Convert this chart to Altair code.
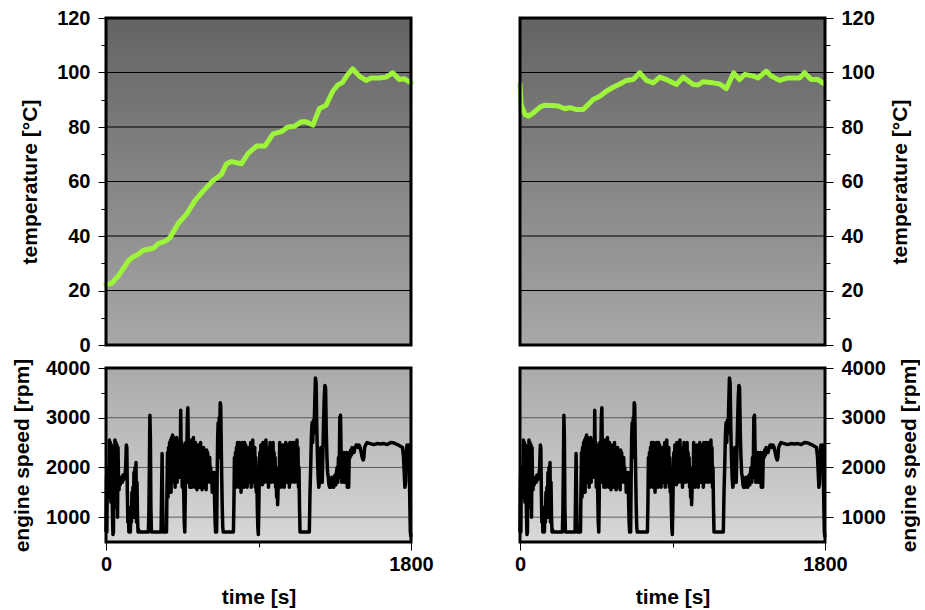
import altair as alt
import pandas as pd

# ---------------- data ----------------
time_left = [0, 33, 73, 132, 161, 190, 220, 279, 308, 347, 377, 426, 475, 524, 573, 632, 681,
             711, 740, 799, 838, 888, 937, 986, 1035, 1073, 1113, 1152, 1181, 1221, 1260, 1299,
             1339, 1368, 1397, 1427, 1456, 1495, 1535, 1564, 1613, 1653, 1692, 1731, 1761, 1800]
temp_left = [22.1, 22.6, 25.4, 30.9, 32.4, 33.3, 34.8, 35.5, 37.2, 38.0, 39.4, 44.6, 48.0, 52.9,
             56.5, 60.4, 62.6, 66.5, 67.3, 66.5, 70.2, 73.0, 73.0, 77.5, 78.3, 80.0, 80.3, 81.9,
             81.9, 80.7, 86.8, 88.0, 93.2, 95.4, 96.5, 99.3, 101.3, 98.7, 97.1, 98.0, 98.0, 98.3,
             99.9, 97.4, 97.7, 96.2]

time_right = [0, 6, 29, 49, 79, 118, 147, 187, 226, 265, 295, 334, 373, 403, 432, 471, 511, 550,
              589, 628, 668, 707, 746, 786, 825, 864, 923, 963, 1022, 1051, 1080, 1139, 1178,
              1218, 1261, 1296, 1326, 1375, 1404, 1453, 1483, 1532, 1581, 1650, 1679, 1718,
              1758, 1796]
temp_right = [95.6, 88.3, 84.6, 84.0, 85.2, 87.3, 88.0, 87.9, 87.7, 86.7, 87.1, 86.4, 86.4, 88.3,
              90.1, 91.3, 93.2, 94.6, 95.8, 97.1, 97.4, 99.9, 97.1, 96.2, 98.3, 97.4, 95.6, 98.3,
              95.6, 95.4, 96.6, 96.2, 95.8, 94.1, 99.9, 97.4, 99.3, 98.7, 98.0, 100.5, 98.7,
              97.1, 98.0, 98.0, 99.9, 97.4, 97.4, 95.8]

speed_pts = [
    (0, 700), (3, 1800), (5, 700), (8, 1950), (11, 1400), (14, 2000), (17, 1500), (20, 2550),
    (23, 1800), (26, 2500), (29, 1300), (32, 2450), (35, 1700), (38, 1100), (41, 650), (44, 700),
    (47, 2200), (50, 1600), (53, 2550), (56, 1500), (59, 2500), (62, 1200), (65, 2450), (68, 1000),
    (71, 2400), (74, 1700), (77, 1550), (80, 1800), (84, 1650), (88, 1750), (92, 1800), (96, 1700),
    (100, 1850), (104, 1750), (108, 1800), (112, 1850), (116, 2000), (120, 2450), (123, 2400),
    (126, 1500), (129, 900), (132, 1200), (135, 700), (138, 800), (141, 1000), (144, 700),
    (147, 1200), (150, 900), (153, 1500), (156, 1100), (159, 1600), (162, 1000), (165, 1900),
    (168, 1200), (171, 2000), (174, 1500), (177, 2100), (180, 900), (183, 1700), (186, 1000),
    (189, 700), (192, 750), (196, 700), (250, 700), (253, 1100), (256, 2000), (259, 3050),
    (262, 2600), (265, 1200), (268, 700), (325, 700), (328, 1500), (331, 2280), (334, 1400),
    (337, 700), (357, 700), (360, 1600), (363, 2300), (366, 1400), (369, 2400), (372, 1700),
    (375, 2500), (378, 1900), (381, 2550), (384, 1500), (387, 2600), (390, 2000), (393, 2650),
    (396, 1700), (399, 2600), (402, 2100), (405, 2550), (408, 1600), (411, 2400), (414, 1900),
    (417, 2600), (420, 1700), (423, 2500), (426, 2000), (429, 2450), (432, 1800), (435, 2550),
    (438, 2000), (441, 3150), (444, 2200), (447, 2500), (450, 1600), (453, 2450), (456, 1900),
    (459, 1400), (462, 900), (465, 700), (468, 1500), (471, 2500), (474, 1700), (477, 2300),
    (480, 3000), (483, 3200), (486, 2400), (489, 1700), (492, 2500), (495, 1600), (498, 2300),
    (501, 1800), (504, 2550), (507, 1600), (510, 2400), (513, 1800), (516, 2600), (519, 1700),
    (522, 2350), (525, 1600), (528, 2500), (531, 1900), (534, 2400), (537, 1550), (540, 2300),
    (543, 1800), (546, 2450), (549, 1600), (552, 2200), (555, 1900), (558, 2500), (561, 1700),
    (564, 2300), (567, 1550), (570, 2200), (573, 1900), (576, 2400), (579, 1600), (582, 2300),
    (585, 1800), (588, 2200), (591, 1550), (594, 2350), (597, 1700), (600, 2300), (603, 1900),
    (606, 2100), (609, 1800), (612, 2200), (615, 1700), (618, 2000), (621, 1800), (624, 1900),
    (627, 1500), (630, 1800), (634, 1700), (638, 1900), (641, 1300), (644, 900), (647, 700),
    (650, 1400), (653, 700), (656, 1800), (659, 2600), (662, 2900), (665, 2200), (668, 3000),
    (671, 2700), (674, 3300), (677, 3250), (680, 2500), (683, 1800), (686, 1200), (689, 800),
    (692, 700), (752, 700), (755, 1300), (758, 2200), (761, 1700), (764, 2300), (767, 1600),
    (770, 2400), (773, 1800), (776, 2500), (779, 1700), (782, 2450), (785, 1600), (788, 2500),
    (791, 1900), (794, 2450), (797, 1500), (800, 2300), (803, 1700), (806, 2500), (809, 1800),
    (812, 2400), (815, 1600), (818, 2500), (821, 2000), (824, 2450), (827, 1700), (830, 2300),
    (833, 1600), (836, 2100), (839, 1800), (842, 2400), (845, 1700), (848, 2200), (851, 1800),
    (854, 2500), (857, 1600), (860, 2300), (863, 1900), (866, 2550), (869, 1700), (872, 2300),
    (875, 1800), (878, 2400), (881, 1600), (884, 2200), (887, 1500), (890, 1900), (893, 1200),
    (896, 800), (899, 650), (902, 1200), (905, 1900), (908, 2300), (911, 1700), (914, 2450),
    (917, 1800), (920, 2200), (923, 1650), (926, 2500), (929, 1900), (932, 2400), (935, 1700),
    (938, 2300), (941, 1800), (944, 2550), (947, 1900), (950, 2400), (953, 1700), (956, 2200),
    (959, 1600), (962, 2100), (965, 1800), (968, 2500), (971, 1900), (974, 2400), (977, 1700),
    (980, 2300), (983, 1900), (986, 2500), (989, 1800), (992, 2300), (995, 1700), (998, 2200),
    (1001, 1600), (1004, 1900), (1007, 1400), (1010, 1700), (1013, 1250), (1016, 1600),
    (1019, 2000), (1022, 1700), (1025, 2500), (1028, 1800), (1031, 2400), (1034, 1600),
    (1037, 2300), (1040, 1700), (1043, 2450), (1046, 1800), (1049, 2300), (1052, 1600),
    (1055, 2400), (1058, 1900), (1061, 2500), (1064, 1800), (1067, 2200), (1070, 1700),
    (1073, 2450), (1076, 1800), (1079, 2300), (1082, 1600), (1085, 2500), (1088, 1900),
    (1091, 2400), (1094, 1700), (1097, 2500), (1100, 1800), (1103, 2450), (1106, 1900),
    (1109, 2500), (1112, 1700), (1115, 2300), (1118, 1800), (1121, 2500), (1124, 2000),
    (1127, 2550), (1130, 1700), (1133, 2400), (1136, 1600), (1139, 2000), (1142, 1200),
    (1145, 700), (1200, 700), (1204, 1500), (1208, 2000), (1212, 2600), (1216, 2900),
    (1220, 2500), (1224, 2950), (1228, 2700), (1232, 3300), (1236, 3800), (1240, 3700),
    (1244, 2800), (1248, 2200), (1252, 1800), (1256, 1600), (1260, 1700), (1264, 1900),
    (1268, 2400), (1272, 2000), (1276, 1700), (1280, 2300), (1284, 2900), (1288, 3400),
    (1292, 3650), (1296, 3600), (1300, 2700), (1304, 2200), (1308, 1900), (1312, 1800),
    (1316, 1650), (1320, 1600), (1324, 1700), (1328, 1600), (1332, 1800), (1336, 1650),
    (1340, 1800), (1344, 1600), (1348, 1700), (1352, 1850), (1356, 1650), (1360, 1900),
    (1364, 2000), (1368, 1700), (1372, 2200), (1376, 1800), (1380, 3000), (1384, 3050),
    (1388, 2200), (1392, 1700), (1396, 2300), (1400, 1800), (1404, 2300), (1408, 1700),
    (1412, 2200), (1416, 1900), (1420, 2300), (1424, 1600), (1428, 2000), (1432, 1600),
    (1436, 2300), (1440, 2200), (1444, 2350), (1448, 2250), (1452, 2400), (1456, 2300),
    (1460, 2350), (1464, 2300), (1470, 2400), (1476, 2450), (1482, 2450), (1488, 2400),
    (1494, 2450), (1500, 2400), (1506, 2300), (1512, 2200), (1518, 2150), (1522, 2200),
    (1526, 2400), (1532, 2450), (1540, 2500), (1560, 2480), (1580, 2460), (1600, 2480),
    (1620, 2470), (1640, 2480), (1660, 2460), (1680, 2500), (1700, 2490), (1720, 2460),
    (1740, 2420), (1750, 2400), (1756, 2200), (1760, 1900), (1764, 1600), (1768, 1700),
    (1772, 2300), (1776, 2450), (1780, 2400), (1784, 2300), (1788, 2450), (1792, 1500),
    (1796, 700), (1800, 600),
]
speed_time = [p[0] for p in speed_pts]
speed_rpm = [p[1] for p in speed_pts]

temp_ticks = list(range(0, 121, 10))
temp_grid = [20, 40, 60, 80, 100]
rpm_ticks = [1000, 1500, 2000, 2500, 3000, 3500, 4000]
rpm_grid = [1000, 2000, 3000]
time_ticks = [0, 900, 1800]

# ---------------- styling ----------------
FONT = "Liberation Sans"
W = 305
H_TOP = 327
H_BOT = 174
LINE_GREEN = "#9ef43a"

one = pd.DataFrame({"k": [0]})


def background(c1, c2):
    grad = alt.LinearGradient(
        gradient="linear",
        stops=[alt.GradientStop(color=c1, offset=0), alt.GradientStop(color=c2, offset=1)],
        x1=0, x2=0, y1=0, y2=1,
    )
    return alt.Chart(one).mark_rect(fill=grad).encode(
        x=alt.value(0), x2=alt.value("width"), y=alt.value(0), y2=alt.value("height")
    )


def border():
    return alt.Chart(one).mark_rect(fillOpacity=0, stroke="black", strokeWidth=3).encode(
        x=alt.value(0), x2=alt.value("width"), y=alt.value(0), y2=alt.value("height")
    )


def y_axis(orient, values, major_test, title, title_pad):
    return alt.Axis(
        orient=orient, values=values, format="d",
        labelExpr=f"({major_test}) ? datum.label : ''",
        tickSize={"condition": {"test": major_test, "value": 8}, "value": 5},
        tickColor="black", tickWidth=1, grid=False, domain=False,
        labelFlush=False, labelOverlap=False,
        labelFont=FONT, labelFontSize=20, labelFontWeight="bold", labelColor="black",
        labelPadding=8,
        title=title, titleFont=FONT, titleFontSize=21, titleFontWeight="bold",
        titleColor="black", titleAngle=270, titlePadding=title_pad,
    )


def x_axis():
    return alt.Axis(
        values=time_ticks, format="d",
        labelExpr="datum.value === 900 ? '' : datum.label",
        tickSize={"condition": {"test": "datum.value === 900", "value": 5}, "value": 8},
        tickColor="black", grid=False, domain=False, labelFlush=False,
        labelFont=FONT, labelFontSize=20, labelFontWeight="bold", labelColor="black",
        labelPadding=4,
        title="time [s]", titleFont=FONT, titleFontSize=21, titleFontWeight="bold",
        titleColor="black", titlePadding=12,
    )


def temp_panel(times, temps, orient, title_pad):
    df = pd.DataFrame({"time": times, "temp": temps})
    xs = alt.X("time:Q", scale=alt.Scale(domain=[0, 1800], nice=False), axis=None)
    ys = alt.Y("temp:Q", scale=alt.Scale(domain=[0, 120], nice=False),
               axis=y_axis(orient, temp_ticks, "datum.value % 20 === 0", "temperature [°C]",
                           title_pad))
    grid = alt.Chart(pd.DataFrame({"temp": temp_grid})).mark_rule(
        color="black", strokeWidth=1).encode(y=ys)
    line = alt.Chart(df).mark_line(color=LINE_GREEN, strokeWidth=5, strokeJoin="round",
                                   strokeCap="round").encode(x=xs, y=ys)
    return alt.layer(background("#636363", "#a8a8a8"), grid, line, border()).properties(
        width=W, height=H_TOP)


def speed_panel(orient, title_pad):
    df = pd.DataFrame({"time": speed_time, "rpm": speed_rpm})
    xs = alt.X("time:Q", scale=alt.Scale(domain=[0, 1800], nice=False), axis=x_axis())
    ys = alt.Y("rpm:Q", scale=alt.Scale(domain=[500, 4000], nice=False),
               axis=y_axis(orient, rpm_ticks, "datum.value % 1000 === 0", "engine speed [rpm]",
                           title_pad))
    grid = alt.Chart(pd.DataFrame({"rpm": rpm_grid})).mark_rule(
        color="#5a5a5a", strokeWidth=1).encode(y=ys)
    line = alt.Chart(df).mark_line(color="black", strokeWidth=3.5, strokeJoin="round").encode(
        x=xs, y=ys)
    return alt.layer(background("#aaaaaa", "#d8d8d8"), grid, line, border()).properties(
        width=W, height=H_BOT)


chart = alt.concat(
    temp_panel(time_left, temp_left, "left", 16),
    temp_panel(time_right, temp_right, "right", 36),
    speed_panel("left", 13),
    speed_panel("right", 34),
    columns=2,
    spacing={"row": 23, "column": 109},
    bounds="flush",
).properties(
    padding={"left": 11, "top": 8, "right": 0, "bottom": 5},
    background="white",
).configure_view(stroke=None)

chart.save("out.html", embed_options={"renderer": "svg", "actions": False})
